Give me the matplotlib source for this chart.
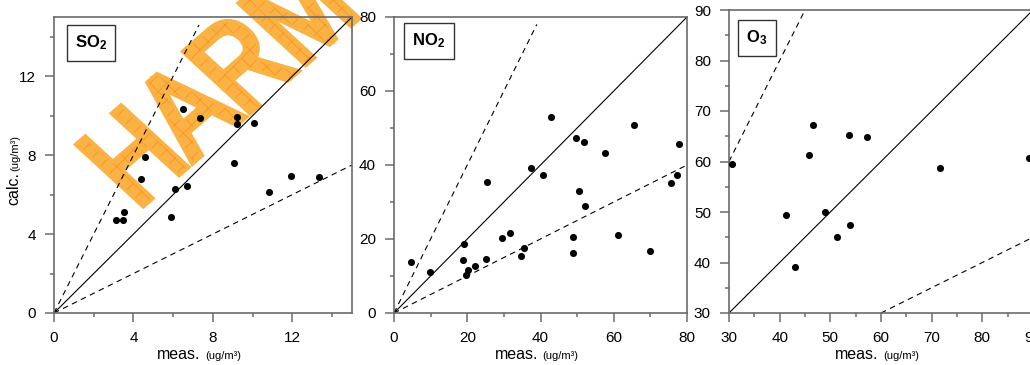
import numpy as np
import matplotlib
matplotlib.use("Agg")
import matplotlib.pyplot as plt
from matplotlib.ticker import MultipleLocator
from matplotlib.textpath import TextPath
from matplotlib.patches import PathPatch
from matplotlib.font_manager import FontProperties
from matplotlib.transforms import Affine2D, IdentityTransform

plt.rcParams["font.family"] = ["Liberation Sans", "DejaVu Sans"]
plt.rcParams["mathtext.fontset"] = "custom"
plt.rcParams["mathtext.rm"] = "Liberation Sans"
plt.rcParams["mathtext.bf"] = "Liberation Sans:bold"
plt.rcParams["hatch.linewidth"] = 0.6

# ---- data (meas. vs calc., ug/m3) ----
so2_meas = [3.14, 3.47, 3.52, 4.36, 4.60, 5.89, 6.07, 6.49, 6.71, 7.35,
            9.06, 9.21, 9.23, 10.07, 10.81, 11.91, 13.32]
so2_calc = [4.72, 4.69, 5.11, 6.79, 7.92, 4.87, 6.27, 10.35, 6.42, 9.86,
            7.60, 9.94, 9.56, 9.64, 6.12, 6.96, 6.89]

no2_meas = [4.6, 9.8, 18.9, 19.2, 19.6, 20.1, 22.1, 25.1, 25.5, 29.6,
            31.7, 34.8, 35.6, 37.5, 40.7, 42.8, 48.8, 49.0, 49.8, 50.6,
            51.8, 52.1, 57.6, 61.1, 65.4, 69.8, 75.7, 77.2, 77.7]
no2_calc = [13.9, 11.0, 14.2, 18.7, 10.4, 11.6, 12.7, 14.6, 35.4, 20.3,
            21.7, 15.4, 17.6, 39.1, 37.3, 53.0, 20.6, 16.2, 47.4, 33.0,
            46.1, 29.0, 43.2, 21.2, 50.8, 16.7, 35.2, 37.4, 45.8]

o3_meas = [30.6, 41.3, 43.0, 45.7, 46.5, 48.9, 51.3, 53.6, 53.8, 57.2, 71.7, 89.3]
o3_calc = [59.5, 49.4, 39.1, 61.2, 67.3, 50.0, 45.1, 65.2, 47.4, 64.9, 58.8, 60.7]

species = [r"$\mathbf{SO_2}$", r"$\mathbf{NO_2}$", r"$\mathbf{O_3}$"]
limits = [(0, 15), (0, 80), (30, 90)]
major_step = [4, 20, 10]
minor_step = [2, 10, 5]
upper_end = [7.3, 39, 45]      # where the 2:1 dashed line stops (x)

STYLE = {
    "spine": "#6b6b6b",
    "wm_fill": "#FBB245",
    "wm_hatch": "#F7961F",
}

W, H = 1030, 365
fig = plt.figure(figsize=(W / 100, H / 100), dpi=100)

boxes = [
    [54 / W, 52 / H, 298 / W, 296 / H],
    [394 / W, 52 / H, 293 / W, 296 / H],
    [729 / W, 52 / H, 304 / W, 303 / H],
]
label_pos = [(0.124, 0.912), (0.119, 0.919), (0.092, 0.908)]

meas = [so2_meas, no2_meas, o3_meas]
calc = [so2_calc, no2_calc, o3_calc]

axes = []
for i in range(3):
    ax = fig.add_axes(boxes[i])
    ax.set_facecolor("none")
    lo, hi = limits[i]

    # reference lines 1:1, 2:1, 1:2
    xs = np.array([lo, hi])
    ax.plot(xs, xs, color="black", lw=0.8, zorder=2)
    x2 = np.array([max(lo, lo / 2), upper_end[i]])
    ax.plot(x2, 2 * x2, color="black", lw=0.8, ls=(0, (5, 4)), zorder=2)
    xh = np.array([max(lo, 2 * lo), hi])
    ax.plot(xh, 0.5 * xh, color="black", lw=0.8, ls=(0, (5, 4)), zorder=2)

    ax.scatter(meas[i], calc[i], s=26, color="black", lw=0, zorder=3, clip_on=False)

    ax.set_xlim(lo, hi)
    ax.set_ylim(lo, hi)
    ax.xaxis.set_major_locator(MultipleLocator(major_step[i]))
    ax.xaxis.set_minor_locator(MultipleLocator(minor_step[i]))
    ax.yaxis.set_major_locator(MultipleLocator(major_step[i]))
    ax.yaxis.set_minor_locator(MultipleLocator(minor_step[i]))
    ax.tick_params(which="major", length=6.5, width=1.1, color=STYLE["spine"],
                   labelsize=11, pad=6.5)
    ax.tick_params(which="minor", length=3.2, width=1.1, color=STYLE["spine"])
    for sp in ax.spines.values():
        sp.set_color(STYLE["spine"])
        sp.set_linewidth(1.2)

    ax.text(*label_pos[i], species[i], transform=ax.transAxes, fontsize=12,
            ha="center", va="center",
            bbox=dict(boxstyle="square,pad=0.5", fc="white", ec="#333333", lw=1.0))

    # x label: "meas." + small unit
    ax.annotate("meas.", xy=(0.5, 0), xycoords="axes fraction", xytext=(-1.5, -33),
                textcoords="offset points", ha="right", va="baseline", fontsize=11.5)
    ax.annotate("(ug/m³)", xy=(0.5, 0), xycoords="axes fraction", xytext=(1.5, -33),
                textcoords="offset points", ha="left", va="baseline", fontsize=8)
    axes.append(ax)

# y label only on the first panel
ax1 = axes[0]
ax1.annotate("calc.", xy=(0, 0.5), xycoords="axes fraction", xytext=(-25.5, -5),
             textcoords="offset points", ha="right", va="baseline", fontsize=11.5,
             rotation=90, rotation_mode="anchor")
ax1.annotate("(ug/m³)", xy=(0, 0.5), xycoords="axes fraction", xytext=(-25.5, -4),
             textcoords="offset points", ha="left", va="baseline", fontsize=8,
             rotation=90, rotation_mode="anchor")

# watermark (condensed, rotated, behind the data)
tp = TextPath((0, 0), "HARM", size=1, prop=FontProperties(family="Liberation Sans"))
tr = Affine2D().skew_deg(-8, 0).scale(102, 128).rotate_deg(41).translate(137, 155)
wm_path = tr.transform_path(tp)
fig.patches.append(PathPatch(wm_path, transform=IdentityTransform(), fc=STYLE["wm_fill"],
                             ec=STYLE["wm_fill"], lw=5, zorder=-1, figure=fig))
fig.patches.append(PathPatch(wm_path, transform=IdentityTransform(), fill=False,
                             ec=STYLE["wm_hatch"], hatch="xx", lw=0, zorder=-1, figure=fig))

fig.savefig("out.png", dpi=100)
